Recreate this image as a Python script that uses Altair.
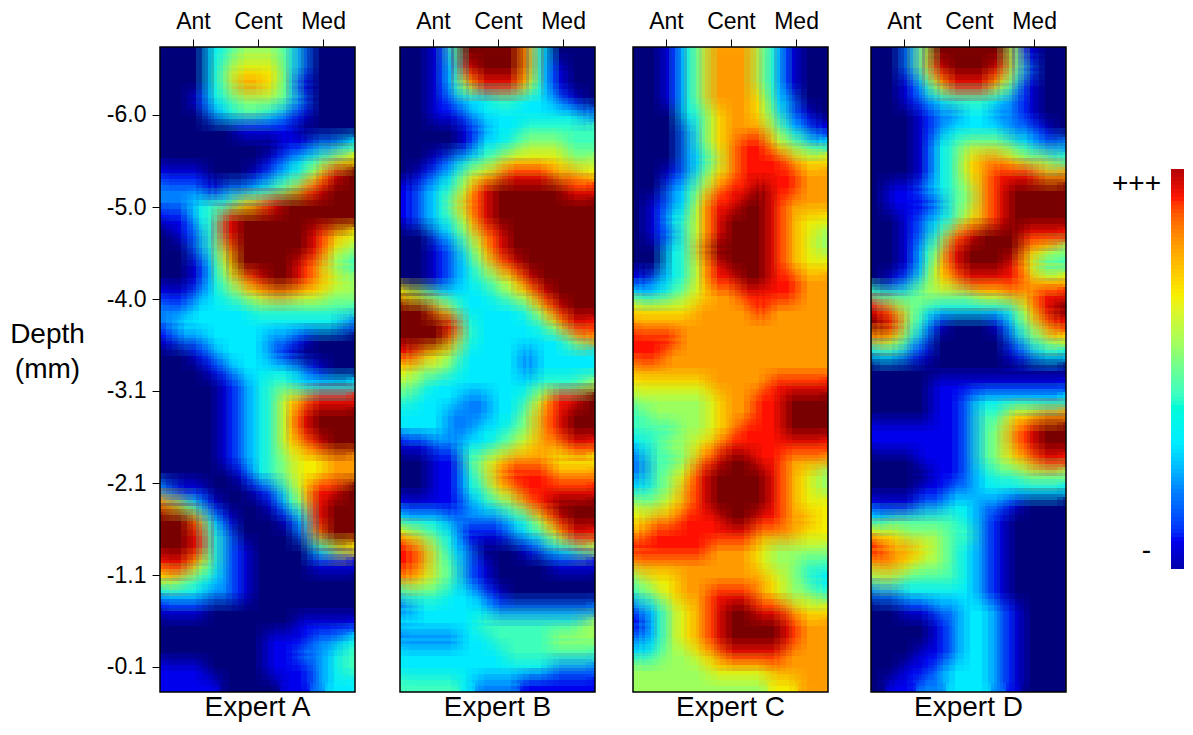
import altair as alt
import pandas as pd

FONT = "Liberation Sans"

expert_a = """0003455542000 0003566642000 0003577641000 0013455542000 0002344321000 0000011110000 0000000011223
0000000123456 1110001234689 2221223457899 2234467899999 1134899999999 0124899999876 0024799999865
0013699998754 0013578998765 1123456776655 2233334444444 2333333333332 1223333221000 0012333210000
0001233332100 0000123443333 0000123467888 0000123468999 0000123468999 0000123467899 0000123456677
0000013456677 2110001246889 7531000135899 9973100013899 9984200002799 9984210000356 8864210000111
6543210000000 3332210000000 1110000000000 0000000001111 0000000111223 0000000112234 1110000111234
1111000011233""".split()

expert_b = """0014999973000 0013899973100 0013688863100 0012334433210 0011233333332 0000123344444 0000133455544
0012345666655 0123567888776 1234689999988 1235789999999 1234689999999 0023578999999 0012468999999
0012357899999 0012345689999 6543334568999 9975333346899 9998433334688 9997433333357 8765333323333
6554333323333 5433333334445 4333223346889 3332223357899 3332233457899 1122334567788 0011456777666
0011357888777 0011346788888 1111234578999 3332222346899 6543111234688 8753200012345 8754210000111
7654210000000 4443321000000 2333332222222 3333344444445 2222334444555 3333333444444 3333333333222
4444322211111""".split()

expert_c = """0013577753100 0013577753100 0013577753100 0013577763200 0003467764210 0002467775321 0002467886543
0002357888766 0012467888877 0023578898877 0123688998777 0134689998766 0124689998765 0034799998765
0034689998766 1234688998877 3345677888877 6666777787777 7777777777777 8887777777777 8877777777777
7777777777777 6666677778888 5555567788999 4555567788999 4445567888999 3455678888888 2445789988777
2456899998765 3457899998765 5567899998766 6778889988776 7888888877766 8888877765555 7777777765544
5667777776543 4567788876554 2356789988766 1356789999877 2356789999877 3455678888777 5555566667777
5555555556677""".split()

expert_d = """0025999995100 0025899985200 0013688864100 0012344432100 0001223322100 0001233332210 0001345554322
0001346776554 0001346788877 0112345789999 0111245789999 0012346789999 0012478999888 0013589999765
0013689998644 0124678888766 4445555667788 8754333334689 9853100013578 7642000002456 3321000001233
0000000000000 0000111111111 0000112333333 0000112446677 1111112457899 1111112457899 0001112456788
0000112344555 0001122333333 1112233221000 3444443210000 6655544210000 8776543210000 7765543210000
5544443210000 2233333210000 0011223321000 0000123321000 0000123321000 0001123321000 0011233321000
0112233321000""".split()

panels = [("Expert A", expert_a), ("Expert B", expert_b), ("Expert C", expert_c), ("Expert D", expert_d)]

levels = list(range(10))
jet = ["#00007f", "#0000f0", "#0080ff", "#00eeff", "#40ffbf",
       "#a0ff60", "#f8f000", "#ffa000", "#ff1500", "#7f0000"]

x_ticks = [2.2, 6.53, 10.87]
x_labels = ["Ant", "Cent", "Med"]
y_ticks = [4.53, 10.67, 16.8, 22.93, 29.07, 35.2, 41.33]
y_labels = ["-6.0", "-5.0", "-4.0", "-3.1", "-2.1", "-1.1", "-0.1"]
bar_labels = ["+++", "-"]
bar_label_pos = [0.9625, 0.045]

N_COLS, N_ROWS = 13, 43
CELL = 15
xs = alt.Scale(domain=[0, N_COLS], nice=False, zero=False)
ys = alt.Scale(domain=[0, N_ROWS], nice=False, zero=False, reverse=True)
cs = alt.Scale(domain=levels, range=jet)


def table(rows):
    out = []
    for r, row in enumerate(rows):
        assert len(row) == N_COLS, (r, row)
        for c, ch in enumerate(row):
            out.append({"x": c, "x2": c + 1, "y": r, "y2": r + 1, "v": int(ch)})
    return pd.DataFrame(out)


def lookup(labels):
    return "[" + ",".join(f"'{s}'" for s in labels) + "]"


def panel(title, rows, left):
    df = table(rows)
    x_axis = alt.Axis(
        orient="top", values=x_ticks, grid=False, domain=False, tickSize=8, tickColor="black",
        labelFontSize=23, labelFont=FONT, labelColor="black", labelPadding=6, labelOverlap=False,
        labelExpr=f"{lookup(x_labels)}[round(datum.index*2)]", title=None,
    )
    if left:
        y_axis = alt.Axis(
            values=y_ticks, grid=False, domain=False, tickSize=8, tickColor="black",
            labelFontSize=23, labelFont=FONT, labelColor="black", labelPadding=6, labelOverlap=False,
            labelExpr=f"{lookup(y_labels)}[round(datum.index*6)]",
            title=["Depth", "(mm)"], titleAngle=0, titleFont=FONT, titleFontSize=28, titleFontWeight="normal",
            titleColor="black", titleX=-113, titleY=287, titleAlign="center", titleBaseline="middle", titleLineHeight=35,
        )
    else:
        y_axis = None
    offsets = [(0, 0)] + [(dx, dy) for dy in (-9, -3, 3, 9) for dx in (-9, -3, 3, 9)]
    layers = []
    for k, (dx, dy) in enumerate(offsets, start=1):
        layers.append(
            alt.Chart(df)
            .mark_rect(opacity=1 / k, clip=True, xOffset=dx, x2Offset=dx, yOffset=dy, y2Offset=dy)
            .encode(
                x=alt.X("x:Q", scale=xs, axis=x_axis),
                x2="x2:Q",
                y=alt.Y("y:Q", scale=ys, axis=y_axis),
                y2="y2:Q",
                color=alt.Color("v:Q", scale=cs, legend=None),
            )
        )
    frame = (
        alt.Chart(pd.DataFrame({"x": [0], "x2": [N_COLS], "y": [0], "y2": [N_ROWS]}))
        .mark_rect(filled=False, stroke="black", strokeWidth=1.5)
        .encode(x=alt.X("x:Q", scale=xs, axis=x_axis), x2="x2:Q",
                y=alt.Y("y:Q", scale=ys, axis=y_axis), y2="y2:Q")
    )
    return alt.layer(*layers, frame).properties(
        width=N_COLS * CELL, height=N_ROWS * CELL,
        title=alt.TitleParams(title, orient="bottom", font=FONT, fontSize=28, fontWeight="normal",
                              color="black", offset=1, anchor="middle"),
    )


# colour bar
n = 100
bar = pd.DataFrame({"f": [i / n for i in range(n)], "f2": [(i + 1) / n for i in range(n)]})
bar["bx"] = 62
bar["bx2"] = 75
bar["v"] = [0.4 + 8.2 * (i + 0.5) / n for i in range(n)]
bxs = alt.Scale(domain=[0, 75], nice=False, zero=False)
bys = alt.Scale(domain=[-0.3075, 1.305], nice=False, zero=False)
bar_rects = alt.Chart(bar).mark_rect().encode(
    x=alt.X("bx:Q", scale=bxs, axis=None), x2="bx2:Q",
    y=alt.Y("f:Q", scale=bys, axis=None), y2="f2:Q",
    color=alt.Color("v:Q", scale=cs, legend=None),
)
bar_text = alt.Chart(pd.DataFrame({"t": bar_labels, "f": bar_label_pos, "bx": [52, 42]})).mark_text(
    font=FONT, fontSize=28, align="right", baseline="middle", color="black"
).encode(
    x=alt.X("bx:Q", scale=bxs, axis=None),
    y=alt.Y("f:Q", scale=bys, axis=None),
    text="t:N",
)
cbar = alt.layer(bar_rects, bar_text).properties(width=75, height=N_ROWS * CELL)

charts = [panel(t, rows, i == 0) for i, (t, rows) in enumerate(panels)]
chart = alt.hconcat(
    alt.hconcat(
        alt.hconcat(charts[0], charts[1], spacing=43),
        alt.hconcat(charts[2], charts[3], spacing=41),
        spacing=36,
    ),
    cbar,
    spacing=42,
).properties(
    padding={"left": 1, "top": 2, "right": 0, "bottom": 0}, background="white"
).configure_view(strokeWidth=0)

chart.save("out.html", embed_options={"renderer": "svg", "actions": False})
